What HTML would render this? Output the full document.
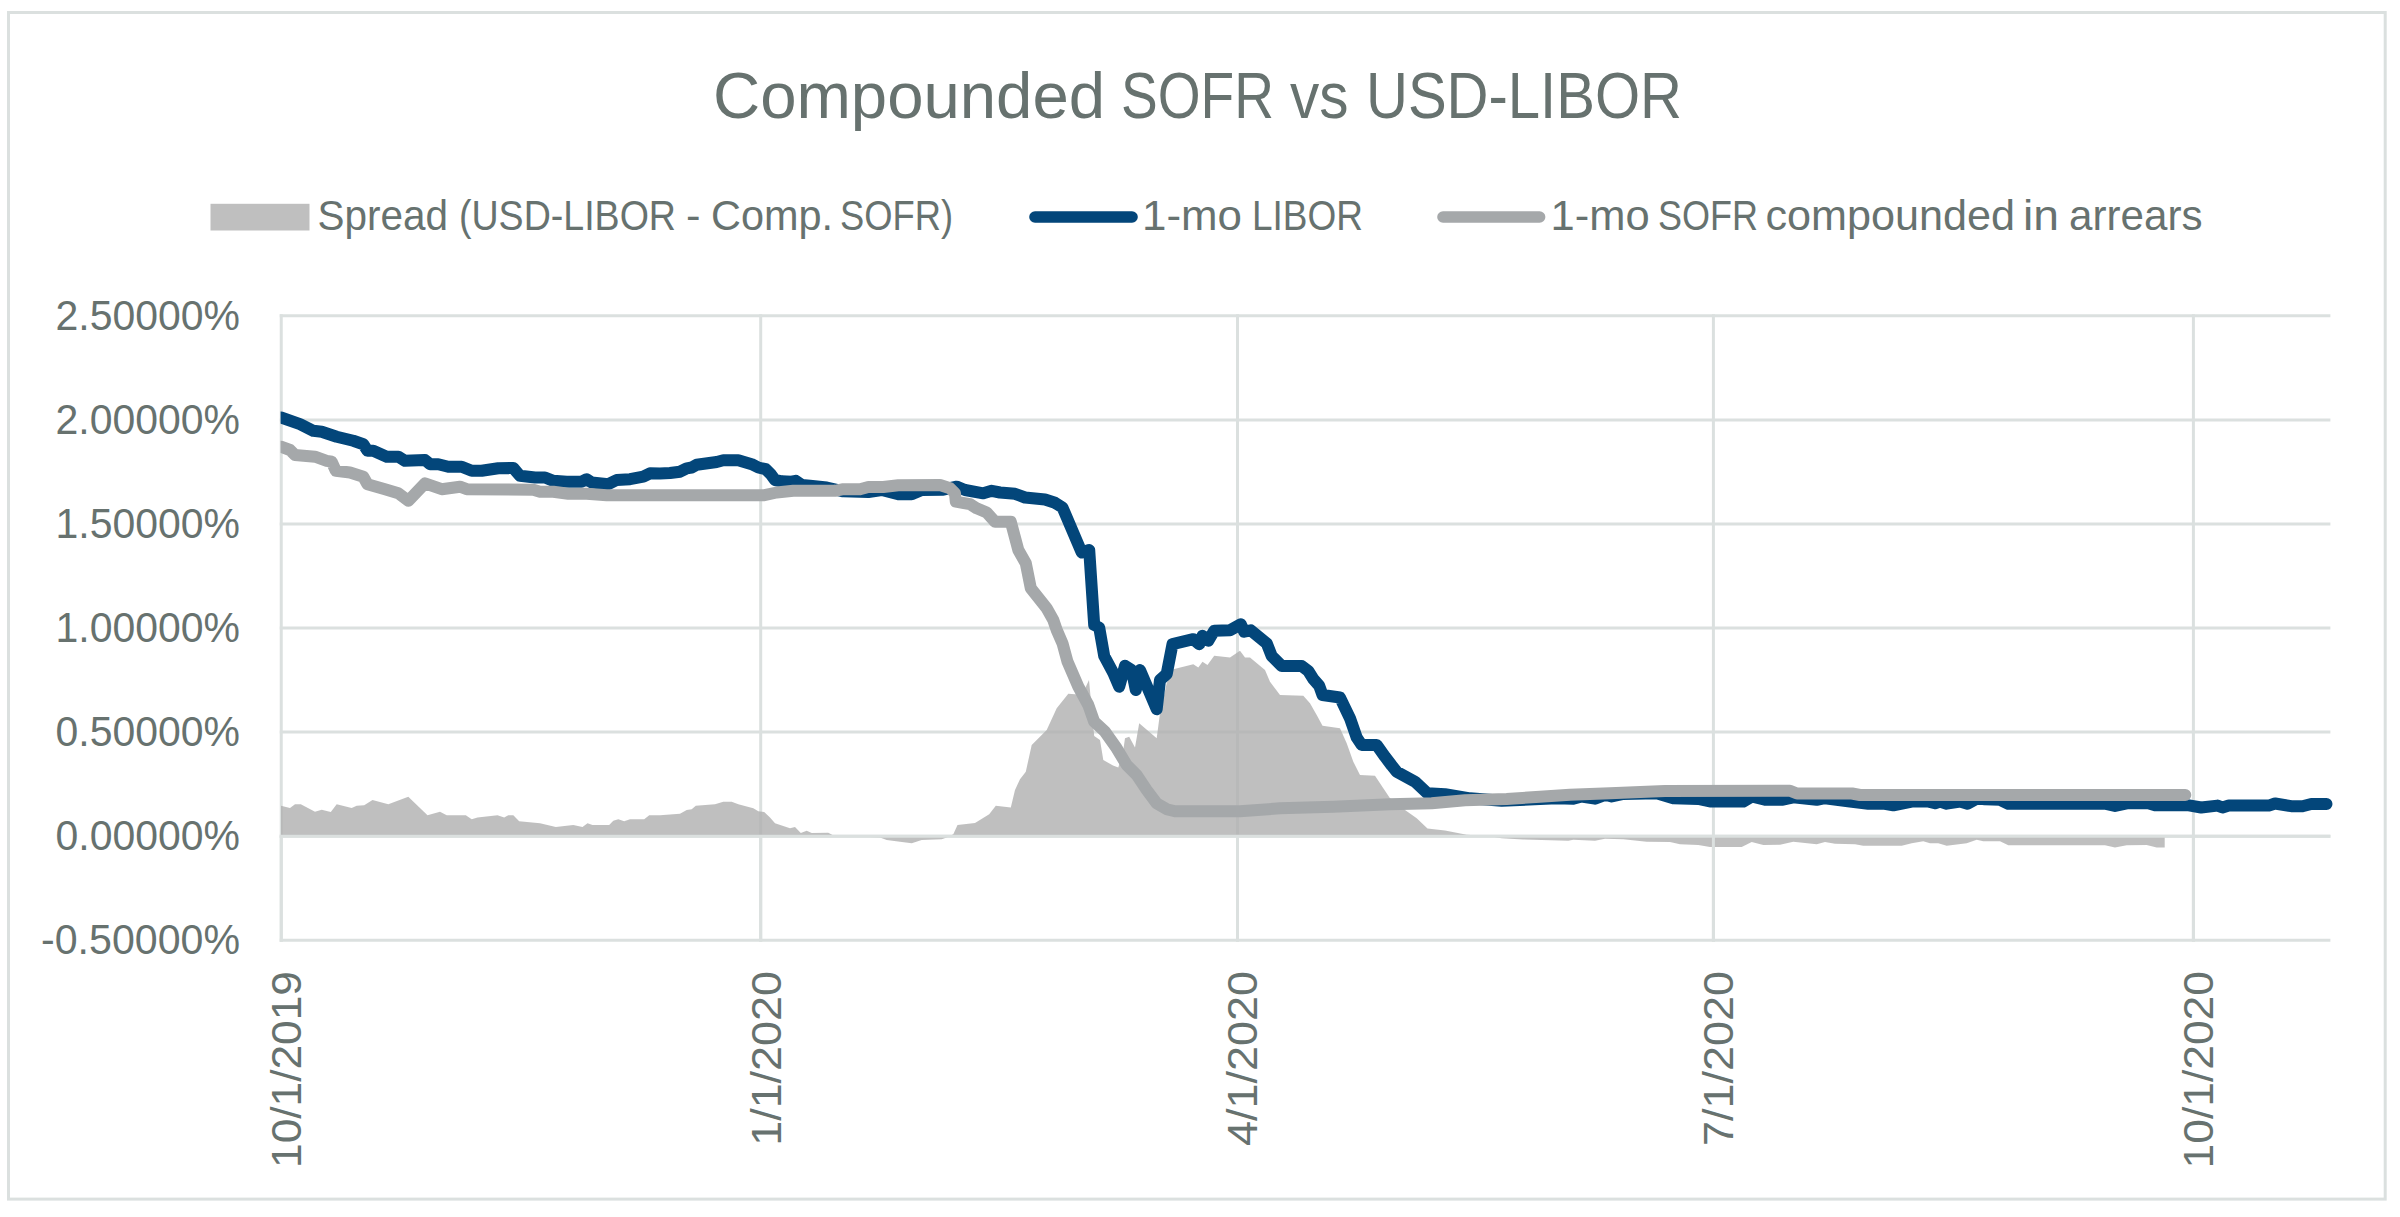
<!DOCTYPE html>
<html lang="en"><head><meta charset="utf-8"><title>Compounded SOFR vs USD-LIBOR</title>
<style>html,body{margin:0;padding:0;background:#fff}svg{display:block}text{font-family:"Liberation Sans",sans-serif;fill:#67726f}</style></head><body>
<svg width="2400" height="1217" viewBox="0 0 2400 1217">
<rect x="0" y="0" width="2400" height="1217" fill="#fff"/>
<rect x="8.5" y="12.5" width="2376.7" height="1186.6" fill="none" stroke="#dbe0df" stroke-width="3"/>
<g stroke="#dbe0df" stroke-width="3" fill="none">
<line x1="279.75" y1="315.80" x2="2330.4" y2="315.80"/>
<line x1="279.75" y1="419.88" x2="2330.4" y2="419.88"/>
<line x1="279.75" y1="523.96" x2="2330.4" y2="523.96"/>
<line x1="279.75" y1="628.04" x2="2330.4" y2="628.04"/>
<line x1="279.75" y1="732.12" x2="2330.4" y2="732.12"/>
<line x1="279.75" y1="836.20" x2="2330.4" y2="836.20"/>
<line x1="279.75" y1="940.28" x2="2330.4" y2="940.28"/>
<line x1="281.25" y1="314.30" x2="281.25" y2="941.78"/>
<line x1="760.7" y1="314.30" x2="760.7" y2="941.78"/>
<line x1="1237.5" y1="314.30" x2="1237.5" y2="941.78"/>
<line x1="1713.4" y1="314.30" x2="1713.4" y2="941.78"/>
<line x1="2193.4" y1="314.30" x2="2193.4" y2="941.78"/>
</g>
<polygon points="281.0,836.2 281.0,805.8 290.0,808.0 295.0,804.2 300.8,804.2 315.0,811.7 321.7,809.7 330.8,812.0 336.7,804.2 351.7,808.0 356.7,805.8 364.2,805.3 372.5,800.0 388.3,804.2 408.3,796.7 427.5,815.3 440.0,811.7 446.7,815.3 465.8,815.3 471.7,819.2 477.5,817.5 497.5,815.3 504.2,817.5 508.3,815.3 513.3,815.3 519.2,821.3 540.0,823.3 555.8,827.0 573.3,825.0 582.5,827.0 587.5,823.3 592.5,825.0 609.2,825.0 613.3,820.8 618.3,819.2 624.2,821.3 630.0,819.2 644.2,819.2 649.2,815.3 660.0,815.3 680.0,813.7 686.7,810.0 691.7,809.2 695.8,805.8 715.0,804.2 723.3,801.7 731.7,801.7 738.3,804.2 753.3,808.3 758.3,811.3 764.2,812.0 770.0,817.5 775.0,823.3 790.0,828.3 795.0,827.0 800.8,833.0 806.7,830.8 811.7,833.0 828.3,832.7 832.5,835.0 845.0,836.0 870.0,837.0 880.0,837.5 886.7,840.0 900.0,841.7 911.7,843.3 921.7,840.0 941.7,839.2 946.7,837.5 953.3,834.2 957.5,825.0 975.0,823.0 989.2,814.2 995.8,805.8 1010.8,807.5 1015.0,790.0 1020.0,779.2 1025.8,771.7 1031.7,745.0 1046.7,730.0 1056.7,708.3 1068.3,693.7 1075.0,694.2 1082.0,695.0 1089.0,680.0 1094.2,736.0 1100.0,740.0 1103.3,760.0 1113.0,765.5 1118.3,767.5 1123.3,750.0 1125.0,738.3 1129.2,736.7 1135.0,747.5 1139.2,723.3 1156.7,738.3 1160.0,713.3 1166.7,683.3 1173.3,669.2 1193.3,664.2 1198.3,667.5 1202.5,661.7 1207.5,665.0 1214.2,655.8 1230.0,657.5 1240.0,650.8 1245.0,657.5 1250.0,657.5 1265.0,670.0 1270.0,681.7 1280.0,695.0 1303.3,695.8 1310.0,703.3 1316.7,715.0 1322.5,725.8 1340.0,728.3 1346.7,743.3 1353.3,761.7 1360.0,775.0 1375.0,775.8 1383.3,788.3 1390.0,798.3 1399.7,803.0 1405.0,810.0 1416.7,818.3 1427.5,828.5 1445.0,830.5 1466.7,834.7 1488.0,836.0 1501.7,838.3 1523.3,839.5 1568.3,840.8 1573.3,839.7 1595.0,840.8 1605.0,838.7 1623.3,839.2 1646.7,841.7 1670.0,842.0 1680.0,844.2 1698.3,845.0 1710.0,847.0 1741.7,847.0 1751.7,842.0 1763.3,845.0 1780.0,844.8 1793.3,841.7 1816.7,844.2 1825.0,842.0 1835.0,843.7 1855.0,844.2 1863.3,845.8 1901.7,845.8 1911.7,843.3 1923.3,841.3 1930.0,843.3 1938.3,843.3 1946.7,845.8 1966.7,843.3 1976.7,839.7 1983.3,841.3 2000.0,841.3 2008.3,845.3 2105.0,845.3 2115.0,847.5 2126.7,845.3 2146.7,845.0 2156.7,847.5 2164.7,847.5 2164.7,836.2" fill="#afafaf" fill-opacity="0.8"/>
<g stroke="#dbe0df" stroke-width="3" fill="none">
<line x1="281.25" y1="836.20" x2="281.25" y2="941.78"/>
<line x1="760.7" y1="836.20" x2="760.7" y2="941.78"/>
<line x1="1237.5" y1="836.20" x2="1237.5" y2="941.78"/>
<line x1="1713.4" y1="836.20" x2="1713.4" y2="941.78"/>
<line x1="2193.4" y1="836.20" x2="2193.4" y2="941.78"/>
<line x1="279.75" y1="836.20" x2="2330.4" y2="836.20"/>
</g>
<clipPath id="plot"><rect x="280.6" y="300" width="2070" height="660"/></clipPath><g clip-path="url(#plot)">
<polyline points="281.0,417.5 300.0,424.2 313.3,430.8 321.7,431.7 336.7,436.7 353.3,440.8 363.3,444.2 367.5,450.8 373.3,450.8 386.7,456.7 398.3,456.7 405.0,460.8 425.0,460.0 430.0,464.2 438.3,464.2 448.3,466.7 461.7,466.7 471.7,470.8 481.7,470.8 498.3,468.3 513.3,468.0 520.0,475.8 535.0,477.5 545.0,477.5 553.3,480.8 566.7,481.7 581.7,481.7 586.7,479.2 591.7,482.5 608.3,484.2 616.7,480.0 630.0,479.2 643.3,476.7 650.0,473.3 660.0,473.5 670.0,473.0 680.0,471.7 686.7,468.3 691.7,467.5 696.7,464.7 716.7,462.0 723.3,460.3 738.3,460.3 751.7,464.2 758.3,467.5 765.8,469.2 770.8,474.2 775.0,480.0 781.7,481.3 791.7,481.7 795.8,480.8 801.7,485.0 810.0,485.8 826.7,487.5 843.3,491.3 868.3,492.0 881.7,490.0 898.3,494.2 911.7,494.2 921.7,490.0 943.3,489.7 956.7,486.7 965.0,490.0 983.3,493.3 991.7,490.8 1000.0,492.5 1015.0,493.8 1025.0,497.5 1045.0,499.5 1055.0,502.8 1062.5,507.5 1081.7,552.5 1089.2,550.0 1094.2,625.0 1099.2,627.5 1104.2,656.0 1113.3,673.0 1119.2,686.7 1125.0,665.8 1131.7,670.0 1135.8,690.0 1140.0,670.0 1156.7,709.2 1160.0,680.0 1166.7,674.0 1172.5,644.2 1193.3,639.2 1199.2,644.2 1202.5,635.8 1208.3,640.8 1214.2,630.8 1230.0,630.3 1240.8,624.2 1244.2,631.7 1250.8,630.3 1266.7,643.3 1271.7,656.0 1281.7,666.0 1301.7,666.0 1308.3,671.0 1313.3,679.0 1319.2,685.8 1322.5,695.0 1340.0,697.5 1350.0,718.3 1356.7,737.5 1361.7,745.0 1376.7,745.0 1385.0,756.7 1391.7,765.5 1396.7,771.7 1415.0,781.7 1427.5,793.3 1445.0,794.2 1470.0,798.3 1501.7,800.7 1540.0,799.0 1556.7,798.2 1573.3,798.7 1581.7,796.5 1595.0,798.7 1605.0,794.8 1611.7,796.5 1623.3,794.0 1656.7,793.2 1673.3,798.2 1698.3,799.0 1710.0,801.5 1743.3,801.5 1751.7,796.5 1765.0,799.8 1781.7,799.8 1793.3,797.3 1816.7,799.8 1825.0,798.2 1850.0,801.5 1868.3,803.7 1883.3,803.7 1893.3,805.3 1911.7,801.5 1926.7,801.2 1935.0,803.2 1940.0,801.5 1946.7,803.7 1960.0,801.5 1967.5,803.7 1977.5,798.2 1985.0,799.3 2000.0,799.8 2008.3,803.7 2105.0,803.7 2115.0,806.0 2126.7,803.3 2147.5,803.0 2155.0,805.2 2187.5,805.2 2201.2,807.5 2217.5,805.6 2222.5,807.5 2228.8,805.6 2268.8,805.6 2275.0,803.5 2291.2,806.2 2302.5,806.2 2311.2,804.0 2326.5,804.0" fill="none" stroke="#03467a" stroke-width="12" stroke-linejoin="round" stroke-linecap="round"/>
<polyline points="281.0,446.7 290.0,450.0 295.0,455.0 315.0,456.7 326.7,460.8 331.7,461.7 335.8,470.8 350.0,472.5 363.3,476.7 367.5,484.2 385.0,489.2 398.3,493.3 408.3,500.8 425.0,483.3 441.7,489.2 460.0,486.7 466.7,489.2 533.3,489.7 540.0,491.7 553.3,491.7 568.3,493.7 586.7,493.7 606.7,495.3 763.3,495.3 776.7,492.5 793.3,490.8 835.0,490.8 843.3,489.2 860.0,489.2 868.3,487.0 883.3,487.0 898.3,485.3 940.0,485.0 950.0,488.3 955.0,493.3 955.8,501.7 970.0,504.2 976.7,508.3 986.7,512.5 995.0,521.7 1010.8,521.7 1018.3,550.0 1025.8,563.3 1030.8,588.3 1046.7,608.3 1053.3,620.0 1056.7,630.0 1062.5,643.3 1067.5,661.7 1078.3,686.7 1088.3,705.0 1094.2,721.7 1105.0,731.7 1116.7,748.3 1126.7,765.0 1136.7,775.0 1146.7,790.0 1156.7,803.3 1166.7,809.2 1175.0,811.3 1240.0,811.3 1280.0,808.3 1333.3,806.7 1390.0,804.3 1431.7,803.3 1465.0,800.3 1506.7,799.0 1540.0,796.8 1570.0,794.7 1610.0,793.2 1665.0,791.0 1790.0,790.7 1797.0,793.5 1852.0,793.5 1860.0,795.0 2185.3,795.0" fill="none" stroke="#a5a8aa" stroke-width="12" stroke-linejoin="round" stroke-linecap="round"/>
</g>
<text font-size="64" y="118"><tspan x="713.0" textLength="392.0" lengthAdjust="spacingAndGlyphs">Compounded</tspan><tspan x="1121.0" textLength="153.0" lengthAdjust="spacingAndGlyphs">SOFR</tspan><tspan x="1290.0" textLength="58.5" lengthAdjust="spacingAndGlyphs">vs</tspan><tspan x="1366.0" textLength="316.0" lengthAdjust="spacingAndGlyphs">USD-LIBOR</tspan></text>
<rect x="210.5" y="203.8" width="99" height="26.7" fill="#bfbfbf"/>
<text font-size="42.5" y="230.4"><tspan x="317.5" textLength="130.5" lengthAdjust="spacingAndGlyphs">Spread</tspan><tspan x="459.0" textLength="217.0" lengthAdjust="spacingAndGlyphs">(USD-LIBOR</tspan><tspan x="686.0" textLength="14.5" lengthAdjust="spacingAndGlyphs">-</tspan><tspan x="711.0" textLength="122.0" lengthAdjust="spacingAndGlyphs">Comp.</tspan><tspan x="840.0" textLength="113.0" lengthAdjust="spacingAndGlyphs">SOFR)</tspan></text>
<line x1="1035" y1="217" x2="1132" y2="217" stroke="#03467a" stroke-width="11.6" stroke-linecap="round"/>
<text font-size="42.5" y="230.4"><tspan x="1142.0" textLength="100.0" lengthAdjust="spacingAndGlyphs">1-mo</tspan><tspan x="1252.0" textLength="111.0" lengthAdjust="spacingAndGlyphs">LIBOR</tspan></text>
<line x1="1443" y1="217" x2="1539.6" y2="217" stroke="#a5a8aa" stroke-width="11.6" stroke-linecap="round"/>
<text font-size="42.5" y="230.4"><tspan x="1550.5" textLength="99.1" lengthAdjust="spacingAndGlyphs">1-mo</tspan><tspan x="1658.0" textLength="100.0" lengthAdjust="spacingAndGlyphs">SOFR</tspan><tspan x="1765.5" textLength="249.5" lengthAdjust="spacingAndGlyphs">compounded</tspan><tspan x="2023.0" textLength="36.0" lengthAdjust="spacingAndGlyphs">in</tspan><tspan x="2069.0" textLength="133.5" lengthAdjust="spacingAndGlyphs">arrears</tspan></text>
<text font-size="42.5" x="55.5" y="329.5" textLength="184.5" lengthAdjust="spacingAndGlyphs">2.50000%</text>
<text font-size="42.5" x="55.5" y="433.6" textLength="184.5" lengthAdjust="spacingAndGlyphs">2.00000%</text>
<text font-size="42.5" x="55.5" y="537.7" textLength="184.5" lengthAdjust="spacingAndGlyphs">1.50000%</text>
<text font-size="42.5" x="55.5" y="641.7" textLength="184.5" lengthAdjust="spacingAndGlyphs">1.00000%</text>
<text font-size="42.5" x="55.5" y="745.8" textLength="184.5" lengthAdjust="spacingAndGlyphs">0.50000%</text>
<text font-size="42.5" x="55.5" y="849.9" textLength="184.5" lengthAdjust="spacingAndGlyphs">0.00000%</text>
<text font-size="42.5" x="41.0" y="954.0" textLength="199.0" lengthAdjust="spacingAndGlyphs">-0.50000%</text>
<text font-size="42.5" transform="translate(300.8,1168.0) rotate(-90)" x="0" y="0" textLength="197.0" lengthAdjust="spacingAndGlyphs">10/1/2019</text>
<text font-size="42.5" transform="translate(781.4,1145.8) rotate(-90)" x="0" y="0" textLength="174.8" lengthAdjust="spacingAndGlyphs">1/1/2020</text>
<text font-size="42.5" transform="translate(1257.0,1146.0) rotate(-90)" x="0" y="0" textLength="175.0" lengthAdjust="spacingAndGlyphs">4/1/2020</text>
<text font-size="42.5" transform="translate(1732.9,1146.0) rotate(-90)" x="0" y="0" textLength="175.0" lengthAdjust="spacingAndGlyphs">7/1/2020</text>
<text font-size="42.5" transform="translate(2212.9,1168.5) rotate(-90)" x="0" y="0" textLength="197.5" lengthAdjust="spacingAndGlyphs">10/1/2020</text>
</svg></body></html>
